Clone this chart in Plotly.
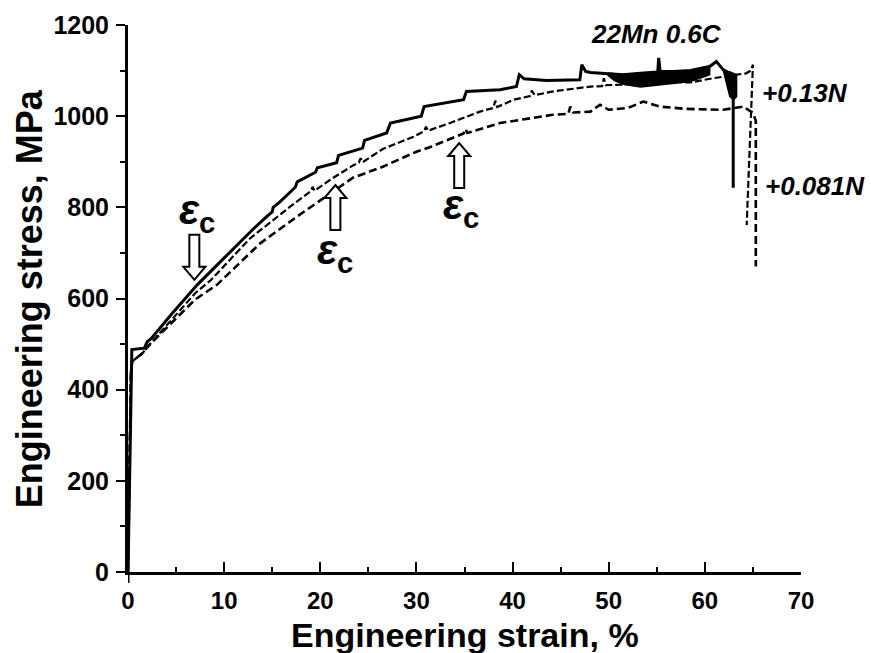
import plotly.graph_objects as go

# ---- data ----
solid_e = [0, 0.3, 0.4, 1.7, 2.0, 2.4, 4.5, 7.2, 9.0, 11.0, 13.0, 14.45, 15.0, 15.1, 15.8, 17.4, 17.6,
           19.5, 19.7, 21.7, 21.9, 24.4, 24.6, 26.9, 27.3, 30.5, 30.8, 34.9, 35.2, 38.7, 40.4, 40.7,
           41.2, 43.5, 47.0, 47.2, 47.6, 48.1, 50.0, 51.5, 53.3, 55.1, 55.2, 55.35, 56.7, 58.5, 60.5,
           61.2, 61.9, 62.5, 62.95, 62.95]
solid_s = [0, 450, 488, 491, 505, 512, 565, 630, 668, 712, 752, 780, 790, 800, 812, 844, 856,
           877, 887, 898, 914, 930, 947, 963, 985, 1000, 1021, 1036, 1054, 1058, 1065, 1091,
           1082, 1078, 1080, 1113, 1098, 1096, 1093, 1091, 1094, 1097, 1128, 1098, 1098, 1100, 1109,
           1120, 1102, 1095, 1087, 843]

mid_e = [0, 0.3, 0.45, 1.5, 2.3, 4.5, 7.0, 8.6, 12.7, 16.9, 19.0, 19.2, 19.4, 21.0, 23.4, 24.0, 24.2,
         24.4, 26.5, 29.7, 30.8, 31.0, 31.2, 33.5, 36.6, 38.0, 38.2, 38.4, 40.1, 41.8, 42.0, 42.3,
         44.1, 48.1, 49.3, 49.5, 49.7, 51.5, 53.9, 58.5, 60.8, 63.3, 64.3, 64.8, 65.0, 64.35]
mid_s = [0, 440, 462, 480, 500, 552, 612, 640, 732, 802, 835, 845, 836, 860, 892, 898, 908,
         899, 928, 955, 967, 977, 968, 985, 1010, 1018, 1034, 1020, 1036, 1044, 1056, 1046,
         1054, 1065, 1066, 1083, 1068, 1069, 1076, 1074, 1083, 1091, 1094, 1100, 1113, 761]

low_e = [0, 0.3, 0.45, 1.5, 2.3, 4.5, 7.0, 9.25, 13.75, 17.6, 21.7, 23.4, 26.5, 30.0, 31.4, 34.9,
         35.1, 35.3, 38.7, 40.8, 44.2, 45.8, 46.0, 46.3, 48.1, 49.1, 50.0, 52.0, 53.6, 55.3, 58.0,
         61.9, 64.0, 65.0, 65.3, 65.3]
low_s = [0, 440, 462, 480, 500, 545, 598, 630, 721, 780, 840, 865, 889, 922, 932, 962,
         972, 963, 985, 992, 1003, 1005, 1021, 1008, 1010, 1025, 1014, 1018, 1032, 1021, 1016,
         1014, 1021, 1007, 990, 670]

# dense serration band of the solid curve
band_e = [49.9, 50.6, 51.5, 53.3, 55.0, 56.7, 58.5, 60.5]
band_upper = [1094, 1093, 1092, 1094, 1097, 1098, 1100, 1109]
band_lower = [1090, 1078, 1070, 1064, 1067, 1072, 1076, 1091]
wedge_e = [61.9, 62.3, 62.6, 63.0, 63.3, 63.3, 62.5]
wedge_s = [1102, 1065, 1043, 1036, 1043, 1091, 1098]

# critical strain markers: tip position and direction
arrow_e = [6.9, 21.57, 34.45]
arrow_s = [641, 849, 941]
arrow_dir = ["down", "up", "up"]
eps_e = [7.14, 21.5, 34.6]
eps_s = [788, 702, 799]

title_label = "22Mn 0.6C"
title_e, title_s = 55.0, 1181
side_labels = ["+0.13N", "+0.081N"]
side_left_px = [760, 763]        # left edge, pixels (partly outside the x range)
side_s = [1050, 847]

x_ticks = [0, 10, 20, 30, 40, 50, 60, 70]
y_ticks = [0, 200, 400, 600, 800, 1000, 1200]

FONT = "Liberation Sans"
ML, MR, MT, MB = 128, 70, 25, 81
W, H = 871, 653
PW = W - ML - MR

fig = go.Figure()

fig.add_trace(go.Scatter(
    x=band_e + band_e[::-1], y=band_upper + band_lower[::-1], fill="toself",
    fillcolor="black", line=dict(color="black", width=1.5), mode="lines",
    hoverinfo="skip", showlegend=False))
fig.add_trace(go.Scatter(
    x=wedge_e, y=wedge_s, fill="toself", fillcolor="black",
    line=dict(color="black", width=1.5), mode="lines", hoverinfo="skip", showlegend=False))

fig.add_trace(go.Scatter(x=low_e, y=low_s, mode="lines",
                         line=dict(color="black", width=2.6, dash="8px,4px"), showlegend=False))
fig.add_trace(go.Scatter(x=mid_e, y=mid_s, mode="lines",
                         line=dict(color="black", width=2.2, dash="7px,3px"), showlegend=False))
fig.add_trace(go.Scatter(x=solid_e, y=solid_s, mode="lines",
                         line=dict(color="black", width=3), showlegend=False))

# hollow block arrows (pixel-sized, anchored at data positions)
def arrow_path(direction):
    L, hl, hw, sw = 45, 13, 11, 5
    sgn = -1 if direction == "up" else 1
    pts = [(0, 0), (hw, sgn * hl), (sw, sgn * hl), (sw, sgn * L), (-sw, sgn * L),
           (-sw, sgn * hl), (-hw, sgn * hl)]
    return "M " + " L ".join(f"{px},{py}" for px, py in pts) + " Z"

shapes = []
for e, s, d in zip(arrow_e, arrow_s, arrow_dir):
    shapes.append(dict(type="path", xref="x", yref="y", xsizemode="pixel", ysizemode="pixel",
                       xanchor=e, yanchor=s, path=arrow_path(d), fillcolor="white",
                       line=dict(color="black", width=2), layer="above"))
# short extension of the y axis below the origin
shapes.append(dict(type="line", xref="x", yref="paper", x0=0, x1=0, y0=0, y1=-0.02,
                   line=dict(color="black", width=3)))

annotations = []
for e, s in zip(eps_e, eps_s):
    annotations.append(dict(x=e, y=s, xref="x", yref="y", showarrow=False,
                            text="<b><i>ε</i><sub>c</sub></b>",
                            font=dict(family=FONT, size=42, color="black")))
annotations.append(dict(x=title_e, y=title_s, xref="x", yref="y", showarrow=False,
                        text=f"<b><i>{title_label}</i></b>",
                        font=dict(family=FONT, size=26, color="black")))
for t, px, s in zip(side_labels, side_left_px, side_s):
    annotations.append(dict(x=(px - ML) / PW, y=s, xref="paper", yref="y", showarrow=False,
                            xanchor="left", text=f"<b><i>{t}</i></b>",
                            font=dict(family=FONT, size=26, color="black")))
annotations.append(dict(x=0.5, y=-0.115, xref="paper", yref="paper", showarrow=False,
                        text="<b>Engineering strain, %</b>", yanchor="middle",
                        font=dict(family=FONT, size=34, color="black")))
annotations.append(dict(x=-0.146, y=0.5, xref="paper", yref="paper", showarrow=False,
                        text="<b>Engineering stress, MPa</b>", textangle=-90, xanchor="center",
                        font=dict(family=FONT, size=36, color="black")))

fig.update_layout(
    width=W, height=H, paper_bgcolor="white", plot_bgcolor="white",
    margin=dict(l=ML, r=MR, t=MT, b=MB),
    shapes=shapes, annotations=annotations,
    xaxis=dict(range=[0, 70], tickvals=x_ticks, ticktext=[f"<b>{v}</b>" for v in x_ticks],
               showgrid=False, zeroline=False, showline=True, linecolor="black", linewidth=3,
               ticks="inside", ticklen=10, tickwidth=2, tickcolor="black",
               minor=dict(dtick=5, ticks="inside", ticklen=5, tickwidth=2, tickcolor="black"),
               tickfont=dict(family=FONT, size=24, color="black"), ticklabelstandoff=5),
    yaxis=dict(range=[0, 1200], tickvals=y_ticks, ticktext=[f"<b>{v}</b>" for v in y_ticks],
               showgrid=False, zeroline=False, showline=True, linecolor="black", linewidth=3,
               ticks="outside", ticklen=9, tickwidth=2, tickcolor="black",
               minor=dict(dtick=100, ticks="outside", ticklen=5, tickwidth=2, tickcolor="black"),
               tickfont=dict(family=FONT, size=25, color="black"), ticklabelstandoff=2),
)

fig.write_html("out.html")
